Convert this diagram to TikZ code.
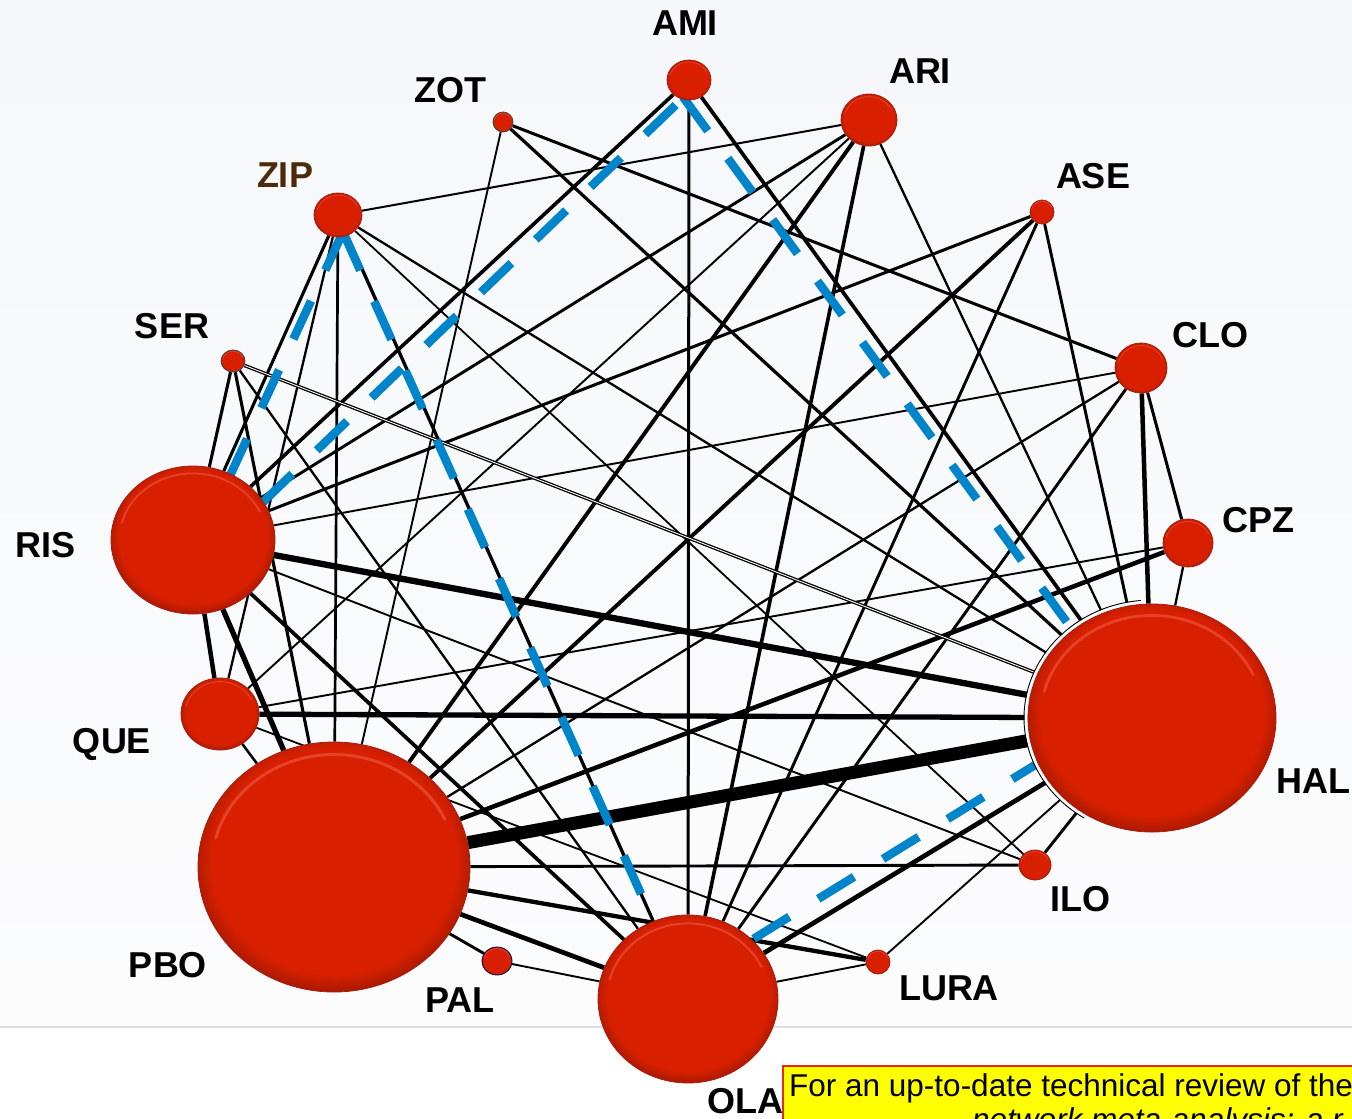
\documentclass[tikz,border=0pt]{standalone}
\usepackage{fontspec}
\setmainfont{Liberation Sans}
\usetikzlibrary{shapes.geometric}

\pgfdeclarelayer{bg}
\pgfdeclarelayer{edges}
\pgfsetlayers{bg,edges,main}

\definecolor{ballred}{RGB}{216,32,0}
\definecolor{balldark}{RGB}{150,22,12}
\definecolor{ballhi}{RGB}{238,90,70}
\definecolor{rimred}{RGB}{165,30,20}
\definecolor{nmablue}{RGB}{0,132,202}
\definecolor{zipbrown}{RGB}{76,42,12}
\definecolor{boxred}{RGB}{232,40,30}
\definecolor{boxyellow}{RGB}{255,255,0}
\definecolor{sepgray}{RGB}{222,222,222}
\definecolor{bgtop}{RGB}{245,247,250}
\definecolor{bgbot}{RGB}{252,252,253}

% flat red disc with a darker rim towards the bottom
\pgfdeclareradialshading{drugball}{\pgfpoint{0bp}{2bp}}{%
  color(0bp)=(ballred); color(22.5bp)=(ballred); color(25bp)=(ballred!85!black);
  color(27bp)=(balldark); color(50bp)=(balldark)}

% #1 name, #2 x, #3 y, #4 x radius, #5 y radius, #6 outline colour
\newcommand\drugball[6]{%
  \node[drug, minimum width=2*#4pt, minimum height=2*#5pt, draw=#6] (#1) at (#2,#3) {};
  \draw[ballhi, line width={max(0.7,0.022*#4)}, opacity=0.6, line cap=round]
    ([shift={(165:{0.9*#4pt} and {0.9*#5pt})}]#1.center)
    arc[start angle=165, end angle=25, x radius=0.9*#4pt, y radius=0.9*#5pt];
}

\begin{document}
\begin{tikzpicture}[x=1pt,y=-1pt,
  drug/.style={ellipse, inner sep=0pt, shading=drugball, line width=0.8pt},
  lab/.style={font=\bfseries\fontsize{36}{36}\selectfont, inner sep=0pt,
              text height=25.8pt, text depth=0pt},
  link/.style={draw=black, line width=#1pt},
  twin/.style={draw=black, line width=1.3pt, double=white, double distance=0.9pt},
  nmadash/.style={draw=nmablue, line width=8.5pt, dash pattern=on 42pt off 34pt},
  notetext/.style={font=\fontsize{31.5}{31.5}\selectfont, inner sep=0pt, anchor=base west},
]
\useasboundingbox (0,0) rectangle (1352,1119);
\clip (0,0) rectangle (1352,1119);

% page background and separator rule
\begin{pgfonlayer}{bg}
  \shade[top color=bgtop, bottom color=bgbot] (0,0) rectangle (1352,1027);
  \fill[white] (0,1027) rectangle (1352,1119);
  \draw[sepgray, line width=2.5pt] (0,1027) -- (1352,1027);
\end{pgfonlayer}

% halo around the haloperidol disc
\draw[white, line width=3pt]
  ([shift={(95:126pt and 116pt)}]1152,718) arc[start angle=95, end angle=238, x radius=126pt, y radius=116pt];
\draw[black, line width=0.9pt]
  ([shift={(95:128pt and 118pt)}]1152,718) arc[start angle=95, end angle=238, x radius=128pt, y radius=118pt];

% treatments
\drugball{AMI}{689}{80}{22}{20}{rimred}
\drugball{ZOT}{503}{122}{10}{10}{black!75}
\drugball{ARI}{869}{120}{28}{26}{rimred}
\drugball{ZIP}{338}{215}{24}{22}{rimred}
\drugball{ASE}{1042}{212}{12}{12}{rimred}
\drugball{SER}{233}{361}{12}{11}{black!75}
\drugball{CLO}{1141}{368}{26}{25}{rimred}
\drugball{CPZ}{1188}{543}{25}{24}{rimred}
\drugball{RIS}{193}{540}{82}{74}{rimred}
\drugball{QUE}{220}{714}{39}{36}{rimred}
\drugball{HAL}{1152}{718}{124}{114}{rimred}
\drugball{PBO}{334}{867}{136}{125}{rimred}
\drugball{PAL}{497}{961}{15}{14}{black!70!blue}
\drugball{OLA}{688}{999}{90}{84}{rimred}
\drugball{ILO}{1035}{865}{16}{15}{rimred}
\drugball{LURA}{878}{962}{12}{12}{rimred}

% labels
\node[lab] (lAMI) at (685,23) {AMI};
\node[lab] (lZOT) at (450,90) {ZOT};
\node[lab] (lARI) at (920,71) {ARI};
\node[lab, text=zipbrown] (lZIP) at (285,175) {ZIP};
\node[lab] (lASE) at (1093,176) {ASE};
\node[lab] (lSER) at (172,326) {SER};
\node[lab] (lCLO) at (1210,335) {CLO};
\node[lab] (lCPZ) at (1258,520) {CPZ};
\node[lab] (lRIS) at (46,545) {RIS};
\node[lab] (lQUE) at (112,741) {QUE};
\node[lab] (lHAL) at (1313,781) {HAL};
\node[lab] (lILO) at (1080,899) {ILO};
\node[lab] (lLURA) at (949,988) {LURA};
\node[lab] (lPBO) at (168,965) {PBO};
\node[lab] (lPAL) at (460,1000) {PAL};
\node[lab] (lOLA) at (745,1101) {OLA};

% comparisons
\begin{pgfonlayer}{edges}
  \draw[link=3.6] (AMI) -- (RIS);
  \draw[link=3.0] (AMI) -- (OLA);
  \draw[link=3.7] (AMI) -- (HAL);
  \draw[link=3.0] (ZOT) -- (CLO);
  \draw[link=3.2] (ZOT) -- (HAL);
  \draw[link=1.9] (ZOT) -- (PBO);
  \draw[link=2.0] (ARI) -- (ZIP);
  \draw[link=2.9] (ARI) -- (RIS);
  \draw[link=1.9] (ARI) -- (QUE);
  \draw[link=3.9] (ARI) -- (PBO);
  \draw[link=3.6] (ARI) -- (OLA);
  \draw[link=2.3] (ARI) -- (HAL);
  \draw[link=3.0] (ASE) -- (RIS);
  \draw[link=3.9] (ASE) -- (PBO);
  \draw[link=2.9] (ASE) -- (OLA);
  \draw[link=2.9] (ASE) -- (HAL);
  \draw[link=1.9] (CLO) -- (RIS);
  \draw[link=2.3] (CLO) -- (PBO);
  \draw[link=2.9] (CLO) -- (OLA);
  \draw[link=4.5] (CLO) -- (HAL);
  \draw[link=3.0] (CLO) -- (CPZ);
  \draw[link=2.3] (CPZ) -- (HAL);
  \draw[link=4.5] (CPZ) -- (PBO);
  \draw[link=1.9] (CPZ) -- (QUE);
  \draw[link=2.3] (ZIP) -- (HAL);
  \draw[link=1.8] (ZIP) -- (ILO);
  \draw[link=3.3] (ZIP) -- (OLA);
  \draw[link=2.7] (ZIP) -- (PBO);
  \draw[link=3.1] (ZIP) -- (RIS);
  \draw[link=2.3] (ZIP) -- (QUE);
  \draw[twin] (SER) -- (HAL);
  \draw[link=3.1] (SER) -- (RIS);
  \draw[link=3.1] (SER) -- (PBO);
  \draw[link=2.3] (SER) -- (OLA);
  \draw[link=6.3] (RIS) -- (HAL);
  \draw[link=1.9] (RIS) -- (ILO);
  \draw[link=3.7] (RIS) -- (OLA);
  \draw[link=5.3] (RIS) -- (PBO);
  \draw[link=4.5] (RIS) -- (QUE);
  \draw[link=5.3] (QUE) -- (HAL);
  \draw[link=1.8] (QUE) -- (LURA);
  \draw[link=2.5] (QUE) -- (PBO);
  \draw[link=13] (PBO) -- (HAL);
  \draw[link=2.9] (PBO) -- (ILO);
  \draw[link=4.3] (PBO) -- (LURA);
  \draw[link=4.7] (PBO) -- (OLA);
  \draw[link=2.9] (PBO) -- (PAL);
  \draw[link=1.9] (PAL) -- (OLA);
  \draw[link=4.7] (OLA) -- (HAL);
  \draw[link=1.9] (OLA) -- (LURA);
  \draw[link=2.9] (HAL) -- (ILO);
  \draw[link=1.9] (HAL) -- (LURA);

  % highlighted closed loop
  \draw[nmadash] ([shift={(5,17)}]ZIP.center) -- ([shift={(35,-60)}]RIS.center);
  \draw[nmadash] ([shift={(5,17)}]ZIP.center) -- ([shift={(-42,-94)}]OLA.center);
  \draw[nmadash] ([shift={(69,-37)}]RIS.center) -- ([shift={(-5,17)}]AMI.center);
  \draw[nmadash] ([shift={(-6,17)}]AMI.center) -- ([shift={(-78,-86)}]HAL.center);
  \draw[nmadash] ([shift={(-104,39)}]HAL.center) -- ([shift={(62,-58)}]OLA.center);
\end{pgfonlayer}

% note box
\node[draw=boxred, fill=boxyellow, line width=2pt, minimum width=640pt, minimum height=100pt,
      anchor=north west, inner sep=0pt] (notebox) at (782,1065) {};
\node[notetext] (note1) at (789,1096) {For an up-to-date technical review of the};
\node[notetext, font=\itshape\fontsize{31.5}{31.5}\selectfont] (note2) at (972,1130) {network meta-analysis: a r};
\end{tikzpicture}
\end{document}
